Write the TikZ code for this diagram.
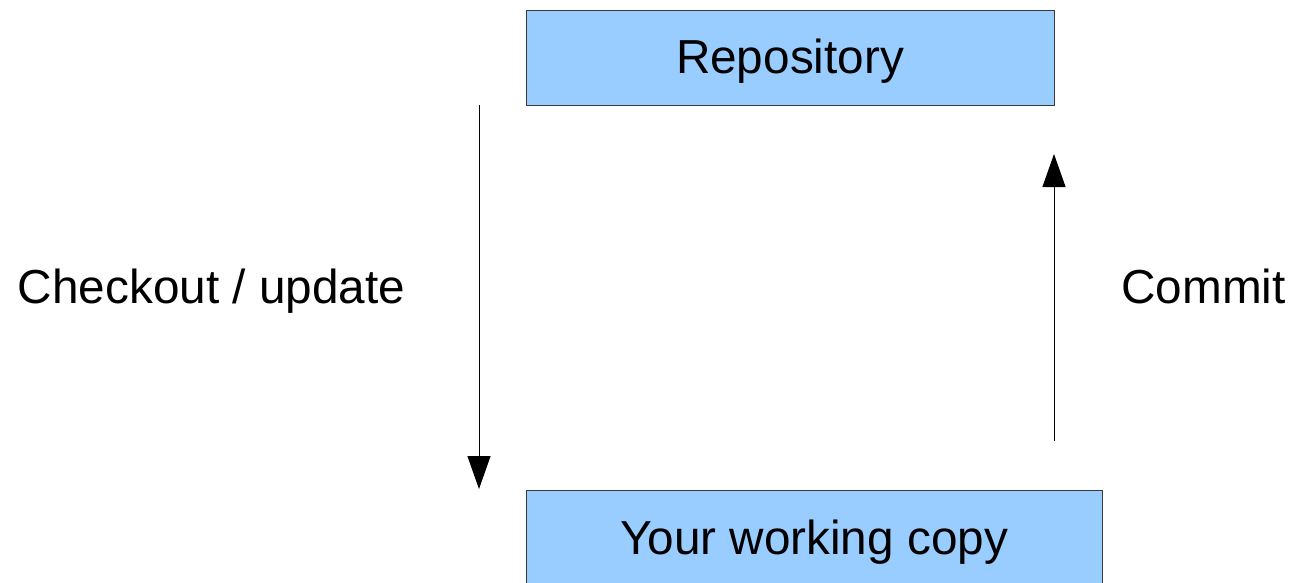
\documentclass[tikz,border=0pt]{standalone}
\usepackage{fontspec}
\setmainfont{Liberation Sans}
\usetikzlibrary{arrows.meta}
\definecolor{boxblue}{HTML}{99CCFF}
\definecolor{boxedge}{HTML}{3A3A3A}
\tikzset{
  repobox/.style={draw=boxedge, fill=boxblue, line width=1pt, inner sep=0pt,
    font=\fontsize{47.7}{57}\selectfont},
  flowarrow/.style={draw=black, line width=1pt,
    -{Triangle[length=33pt, width=23pt]}},
  sidelabel/.style={anchor=base, inner sep=0pt, font=\fontsize{47.7}{57}\selectfont}
}
\begin{document}
\begin{tikzpicture}[x=1pt, y=-1pt]
  \clip (0,0) rectangle (1293,582);
  \useasboundingbox (0,0) rectangle (1293,582);

  % server side and client side
  \node[repobox, minimum width=528pt, minimum height=95pt,
        text height=63.5pt, text depth=31.5pt] (repo) at (790,57.5) {Repository};
  \node[repobox, minimum width=576pt, minimum height=100pt,
        text height=64pt, text depth=36pt] (wc) at (814,540) {Your working copy};

  % free ends of the two flows
  \coordinate (coStart) at (479,105);
  \coordinate (coEnd) at (479,489);
  \coordinate (ciStart) at (1054,441);
  \coordinate (ciEnd) at (1054,154);

  \draw[flowarrow] (coStart) -- (coEnd);
  \draw[flowarrow] (ciStart) -- (ciEnd);

  \node[sidelabel] (colabel) at (211.5,303) {Checkout / update};
  \node[sidelabel] (cilabel) at (1203.5,303) {Commit};
\end{tikzpicture}
\end{document}
